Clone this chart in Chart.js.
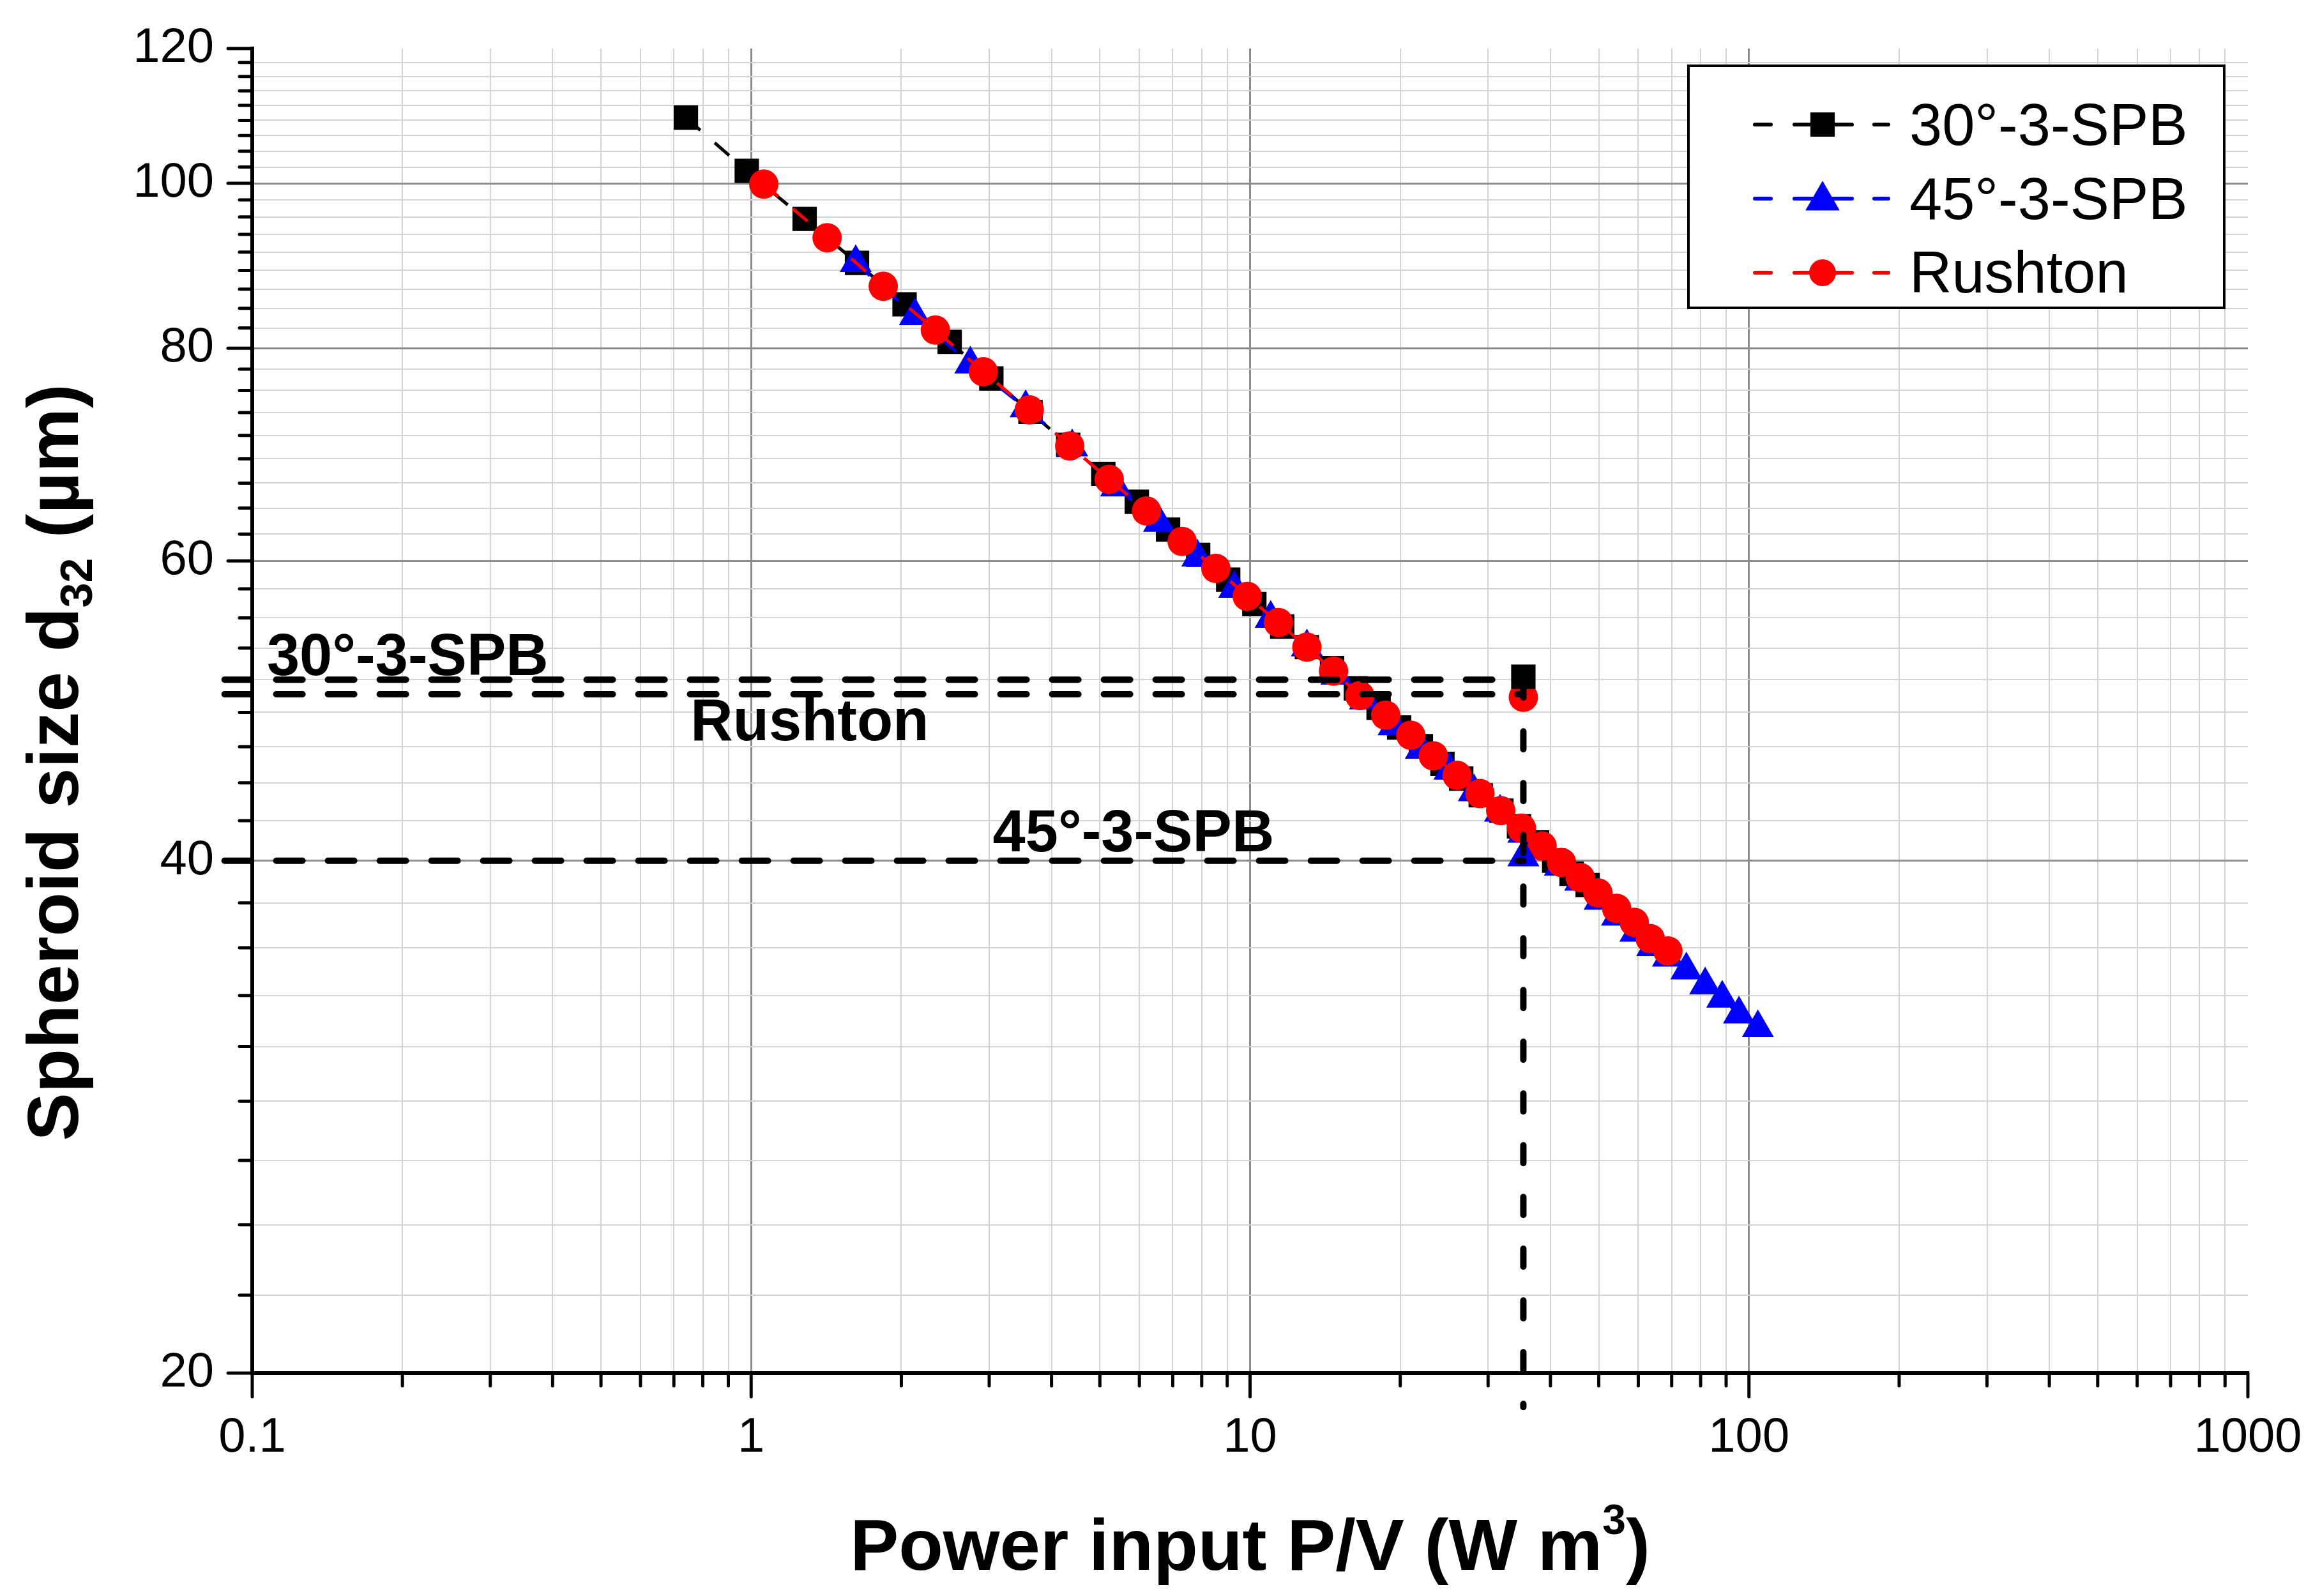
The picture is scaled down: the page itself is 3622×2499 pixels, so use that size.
<!DOCTYPE html>
<html>
<head>
<meta charset="utf-8">
<title>Spheroid size vs power input</title>
<script src="https://cdn.jsdelivr.net/npm/chart.js@4.4.1/dist/chart.umd.min.js"></script>
<style>
  html, body { margin: 0; padding: 0; background: #ffffff; }
  #wrap { width: 3622px; height: 2499px; position: relative; }
</style>
</head>
<body>
<div id="wrap"><canvas id="chart"></canvas></div>
<script>
// ---- values ----
const seriesNames = ['30°-3-SPB', '45°-3-SPB', 'Rushton'];

const spb30X = [0.74, 0.98, 1.28, 1.63, 2.03, 2.50, 3.03, 3.63, 4.32, 5.08, 5.93, 6.85, 7.87, 9.04, 10.2, 11.6,
                13.0, 14.6, 16.3, 18.1, 19.9, 22.0, 24.3, 26.5, 29.0, 31.9, 34.6, 37.6, 40.7, 44.1, 47.5];
const spb30Y = [109.3, 101.7, 95.3, 89.8, 84.9, 80.7, 76.8, 73.4, 70.2, 67.5, 65.0, 62.6, 60.5, 58.5, 56.6, 54.9,
                53.4, 51.9, 50.5, 49.2, 47.9, 46.7, 45.6, 44.7, 43.7, 42.8, 41.9, 41.0, 40.0, 39.3, 38.7];

const spb45X = [1.62, 2.13, 2.75, 3.55, 4.40, 5.39, 6.57, 7.84, 9.30, 11.0, 13.0, 14.9, 17.0, 19.4, 22.0, 25.1,
                28.1, 31.7, 35.3, 38.5, 41.8, 45.9, 50.2, 54.4, 59.2, 64.0, 68.8, 74.9, 81.7, 88.4, 95.5, 104.2];
const spb45Y = [89.8, 83.6, 78.3, 73.8, 70.0, 66.3, 63.2, 60.3, 57.8, 55.5, 53.4, 51.4, 49.7, 48.0, 46.5, 45.2,
                43.9, 42.7, 41.5, 40.6, 39.7, 38.9, 37.9, 37.1, 36.3, 35.6, 35.1, 34.5, 33.8, 33.2, 32.5, 31.9];

const rushtonX = [1.06, 1.42, 1.84, 2.34, 2.92, 3.61, 4.35, 5.22, 6.20, 7.31, 8.54, 9.87, 11.4, 13.0, 14.7, 16.6,
                  18.7, 21.0, 23.3, 26.0, 28.9, 31.8, 35.0, 38.5, 42.1, 45.9, 49.8, 54.3, 58.9, 63.4, 68.8];
const rushtonY = [99.9, 92.9, 87.0, 82.0, 77.5, 73.6, 70.1, 67.0, 64.2, 61.6, 59.4, 57.2, 55.2, 53.4, 51.7, 50.0,
                  48.7, 47.4, 46.1, 44.9, 43.8, 42.8, 41.8, 40.8, 39.9, 39.1, 38.3, 37.5, 36.8, 36.0, 35.4];

// single markers at the reference power input (30°, 45°, Rushton)
const refX = [35.3, 35.3, 35.3];
const refY = [51.3, 40.2, 49.9];

// dashed guide lines
const guide30X = [0.088, 35.3];
const guide30Y = [51.1, 51.1];
const guideRushtonX = [0.088, 35.3];
const guideRushtonY = [50.1, 50.1];
const guide45X = [0.088, 35.3];
const guide45Y = [40, 40];
const guideVertX = [35.3, 35.3];
const guideVertY = [51.1, 19.1];

// guide line captions (anchored in data units: left edge / baseline)
const guideLabels = ['30°-3-SPB', 'Rushton', '45°-3-SPB'];
const guideLabelX = [0.107, 0.756, 3.05];
const guideLabelY = [51.4, 47.1, 40.5];

// axes
const xMajorTicks = [0.1, 1, 10, 100, 1000];
const yMajorTicks = [20, 40, 60, 80, 100, 120];
const yMinorCount = 8;

// ---- helpers ----
const FONT = '"Liberation Sans", Arial, Helvetica, sans-serif';
const colors = ['#000000', '#0000ff', '#ff0000'];
const markers = ['rect', 'triangle', 'circle'];
const markerRadius = [27, 29, 23];

function pts(xs, ys) {
    return xs.map((x, i) => ({ x: x, y: ys[i] }));
}

function logTickList(majors) {
    const out = [];
    majors.forEach((m, i) => {
        out.push({ value: m, major: true });
        if (i < majors.length - 1) {
            for (let k = 2; k <= 9; k++) out.push({ value: +(m * k).toPrecision(4), major: false });
        }
    });
    return out;
}

function linTickList(majors, n) {
    const out = [];
    majors.forEach((m, i) => {
        out.push({ value: m, major: true });
        if (i < majors.length - 1) {
            const step = (majors[i + 1] - m) / (n + 1);
            for (let k = 1; k <= n; k++) out.push({ value: m + k * step, major: false });
        }
    });
    return out;
}

function seriesDataset(i, xs, ys) {
    return {
        label: seriesNames[i],
        data: pts(xs, ys),
        showLine: true,
        borderColor: colors[i],
        backgroundColor: colors[i],
        borderWidth: 5,
        borderDash: [30, 30],
        pointStyle: markers[i],
        pointRadius: markerRadius[i],
        pointBorderWidth: 0,
        pointBackgroundColor: colors[i],
        order: 5 - i
    };
}

function refDataset(i) {
    return {
        label: seriesNames[i] + ' ref',
        data: [{ x: refX[i], y: refY[i] }],
        showLine: false,
        pointStyle: markers[i],
        pointRadius: markerRadius[i],
        pointBorderWidth: 0,
        pointBackgroundColor: colors[i],
        backgroundColor: colors[i],
        borderColor: colors[i],
        clip: false,
        order: 2
    };
}

function guideDataset(xs, ys, dash) {
    return {
        label: 'guide',
        data: pts(xs, ys),
        showLine: true,
        borderColor: '#000000',
        borderWidth: 10,
        borderDash: dash,
        borderCapStyle: 'round',
        pointRadius: 0,
        clip: false,
        order: 1
    };
}

function drawMarker(ctx, style, x, y, r) {
    ctx.beginPath();
    if (style === 'rect') {
        const s = r * Math.SQRT1_2;
        ctx.rect(x - s, y - s, 2 * s, 2 * s);
    } else if (style === 'triangle') {
        ctx.moveTo(x, y - r);
        ctx.lineTo(x + r * 0.866, y + r / 2);
        ctx.lineTo(x - r * 0.866, y + r / 2);
        ctx.closePath();
    } else {
        ctx.arc(x, y, r, 0, Math.PI * 2);
    }
    ctx.fill();
}

// draws text made of parts (normal / sub / superscript), centered on 0
function drawParts(ctx, parts) {
    let total = 0;
    parts.forEach(p => { ctx.font = p.font; p.w = ctx.measureText(p.text).width; total += p.w; });
    let x = -total / 2;
    parts.forEach(p => {
        ctx.font = p.font;
        ctx.fillText(p.text, x, p.dy);
        x += p.w;
    });
}

// ---- extra drawing: tick marks, axis titles, captions, legend ----
const decorations = {
    id: 'decorations',
    afterDraw(chart) {
        const ctx = chart.ctx;
        const xs = chart.scales.x;
        const ys = chart.scales.y;
        ctx.save();

        // tick marks (outward, major longer)
        ctx.strokeStyle = '#000';
        ctx.lineWidth = 5;
        ctx.lineCap = 'round';
        xs.ticks.forEach(t => {
            const px = xs.getPixelForValue(t.value);
            ctx.beginPath();
            ctx.moveTo(px, xs.top);
            ctx.lineTo(px, xs.top + (t.major ? 37 : 20));
            ctx.stroke();
        });
        ys.ticks.forEach(t => {
            const py = ys.getPixelForValue(t.value);
            ctx.beginPath();
            ctx.moveTo(ys.right, py);
            ctx.lineTo(ys.right - (t.major ? 38 : 20), py);
            ctx.stroke();
        });

        ctx.fillStyle = '#000';
        ctx.textBaseline = 'alphabetic';
        ctx.textAlign = 'left';

        // x title
        ctx.save();
        ctx.translate((chart.chartArea.left + chart.chartArea.right) / 2, 2458);
        drawParts(ctx, [
            { text: 'Power input P/V (W m', font: 'bold 114px ' + FONT, dy: 0 },
            { text: '3', font: 'bold 66px ' + FONT, dy: -56 },
            { text: ')', font: 'bold 114px ' + FONT, dy: 0 }
        ]);
        ctx.restore();

        // y title
        ctx.save();
        ctx.translate(122, 1194);
        ctx.rotate(-Math.PI / 2);
        drawParts(ctx, [
            { text: 'Spheroid size d', font: 'bold 113px ' + FONT, dy: 0 },
            { text: '32', font: 'bold 70px ' + FONT, dy: 22 },
            { text: ' (µm)', font: 'bold 113px ' + FONT, dy: 0 }
        ]);
        ctx.restore();

        // guide captions
        ctx.font = 'bold 92px ' + FONT;
        guideLabels.forEach((t, i) => {
            ctx.fillText(t, xs.getPixelForValue(guideLabelX[i]), ys.getPixelForValue(guideLabelY[i]));
        });

        // legend
        const box = { left: 2644, top: 103, right: 3483, bottom: 482 };
        ctx.fillStyle = '#ffffff';
        ctx.fillRect(box.left, box.top, box.right - box.left, box.bottom - box.top);
        ctx.strokeStyle = '#000';
        ctx.lineWidth = 4;
        ctx.lineCap = 'butt';
        ctx.strokeRect(box.left, box.top, box.right - box.left, box.bottom - box.top);

        const rowMid = [195, 311, 427];
        const rowBase = [227, 343, 458];
        const legendR = [27, 31, 21];
        seriesNames.forEach((name, i) => {
            const cy = rowMid[i];
            ctx.strokeStyle = colors[i];
            ctx.fillStyle = colors[i];
            ctx.lineWidth = 6;
            ctx.lineCap = 'round';
            [[2748, 2773], [2810, 2900], [2935, 2957]].forEach(seg => {
                ctx.beginPath();
                ctx.moveTo(seg[0], cy);
                ctx.lineTo(seg[1], cy);
                ctx.stroke();
            });
            drawMarker(ctx, markers[i], 2854, i === 1 ? cy + 3 : cy, legendR[i]);
            ctx.fillStyle = '#000';
            ctx.font = '92px ' + FONT;
            ctx.fillText(name, 2990, rowBase[i]);
        });

        ctx.restore();
    }
};

// ---- chart ----
Chart.defaults.font.family = FONT;
Chart.defaults.color = '#000';

const gridColor = (limitValue) => (c) => {
    if (!c.tick) return 'rgba(0,0,0,0)';
    if (Math.abs(c.tick.value - limitValue) < 1e-9) return 'rgba(0,0,0,0)';
    return c.tick.major ? '#8c8c8c' : '#d4d4d4';
};

const hDash = [41, 40];
const vDash = [28, 53];

new Chart(document.getElementById('chart'), {
    type: 'scatter',
    data: {
        datasets: [
            seriesDataset(0, spb30X, spb30Y),
            seriesDataset(1, spb45X, spb45Y),
            seriesDataset(2, rushtonX, rushtonY),
            refDataset(0),
            refDataset(1),
            refDataset(2),
            guideDataset(guide30X, guide30Y, hDash),
            guideDataset(guideRushtonX, guideRushtonY, hDash),
            guideDataset(guide45X, guide45Y, hDash),
            guideDataset(guideVertX, guideVertY, vDash)
        ]
    },
    options: {
        responsive: true,
        maintainAspectRatio: false,
        devicePixelRatio: 1,
        animation: false,
        events: [],
        layout: { padding: { left: 0, top: 76, right: 102, bottom: 0 } },
        plugins: {
            legend: { display: false },
            tooltip: { enabled: false }
        },
        scales: {
            x: {
                type: 'logarithmic',
                position: 'bottom',
                min: xMajorTicks[0],
                max: xMajorTicks[xMajorTicks.length - 1],
                afterBuildTicks: (scale) => { scale.ticks = logTickList(xMajorTicks); },
                afterFit: (scale) => {
                    scale.height = 349;
                    scale.paddingLeft = 0;
                    scale.paddingRight = 0;
                    scale.paddingTop = 0;
                    scale.paddingBottom = 0;
                },
                border: { display: true, color: '#000', width: 6 },
                grid: {
                    drawTicks: false,
                    color: gridColor(xMajorTicks[xMajorTicks.length - 1]),
                    lineWidth: (c) => (c.tick && c.tick.major ? 3 : 2)
                },
                ticks: {
                    autoSkip: false,
                    maxRotation: 0,
                    padding: 56,
                    font: { size: 76 },
                    color: '#000',
                    callback: function (value, index, ticks) {
                        return ticks[index].major ? String(value) : '';
                    }
                }
            },
            y: {
                type: 'logarithmic',
                position: 'left',
                min: yMajorTicks[0],
                max: yMajorTicks[yMajorTicks.length - 1],
                afterBuildTicks: (scale) => { scale.ticks = linTickList(yMajorTicks, yMinorCount); },
                afterFit: (scale) => {
                    scale.width = 395;
                    scale.paddingLeft = 0;
                    scale.paddingRight = 0;
                    scale.paddingTop = 0;
                    scale.paddingBottom = 0;
                },
                border: { display: true, color: '#000', width: 6 },
                grid: {
                    drawTicks: false,
                    color: gridColor(yMajorTicks[yMajorTicks.length - 1]),
                    lineWidth: (c) => (c.tick && c.tick.major ? 3 : 2)
                },
                ticks: {
                    autoSkip: false,
                    padding: 60,
                    font: { size: 76 },
                    color: '#000',
                    callback: function (value, index, ticks) {
                        return ticks[index].major ? String(value) : '';
                    }
                }
            }
        }
    },
    plugins: [decorations]
});
</script>
</body>
</html>
